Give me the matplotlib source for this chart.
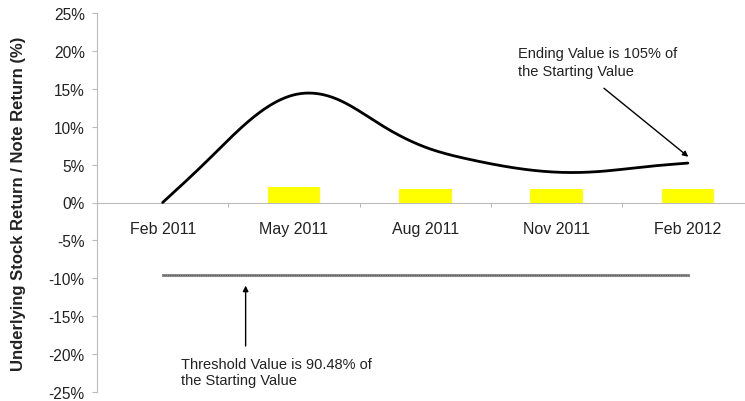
import numpy as np
import matplotlib
matplotlib.use('Agg')
import matplotlib.pyplot as plt

plt.rcParams['font.family'] = ['Liberation Sans', 'DejaVu Sans']

# data
categories = ['Feb 2011', 'May 2011', 'Aug 2011', 'Nov 2011', 'Feb 2012']
# monthly stock return (%), Feb 2011 .. Feb 2012
months = np.arange(13)
stock_return = [0.0, 5.4, 10.9, 14.2, 13.6, 10.2, 7.3, 5.7, 4.6, 4.0, 4.1, 4.7, 5.2]
# quarterly note coupon (%) on May 2011 .. Feb 2012
coupon_cats = [1, 2, 3, 4]
coupon = [2.05, 1.75, 1.75, 1.75]
threshold = 90.48 - 100
yticks = [25, 20, 15, 10, 5, 0, -5, -10, -15, -20, -25]


def natural_spline(x, y, n=400):
    # smooth drawing of the line through the points (natural cubic spline)
    x = np.asarray(x, float)
    y = np.asarray(y, float)
    k = len(x)
    h = np.diff(x)
    A = np.zeros((k, k))
    b = np.zeros(k)
    A[0, 0] = A[-1, -1] = 1
    for i in range(1, k - 1):
        A[i, i - 1] = h[i - 1]
        A[i, i] = 2 * (h[i - 1] + h[i])
        A[i, i + 1] = h[i]
        b[i] = 6 * ((y[i + 1] - y[i]) / h[i] - (y[i] - y[i - 1]) / h[i - 1])
    M = np.linalg.solve(A, b)
    xs = np.linspace(x[0], x[-1], n)
    j = np.clip(np.searchsorted(x, xs) - 1, 0, k - 2)
    t0 = xs - x[j]
    t1 = x[j + 1] - xs
    hj = h[j]
    ys = (M[j] * t1 ** 3 + M[j + 1] * t0 ** 3) / (6 * hj) \
        + (y[j] / hj - M[j] * hj / 6) * t1 + (y[j + 1] / hj - M[j + 1] * hj / 6) * t0
    return xs, ys


fig = plt.figure(figsize=(7.45, 4.02), dpi=100)
ax = fig.add_axes([97 / 745, 9 / 402, 656.5 / 745, 379 / 402])

ax.bar(coupon_cats, coupon, width=0.4, color='#ffff00', zorder=2)

xs, ys = natural_spline(months / 3, stock_return)
ax.plot(xs, ys, color='black', lw=2.0, solid_capstyle='round', zorder=3)

ax.plot([0, len(categories) - 1], [threshold, threshold], color='#8c8c8c', lw=2.2, zorder=2)
ax.plot([0, len(categories) - 1], [threshold, threshold], color='#5a5a5a', lw=0.8,
        ls=(0, (1, 1)), zorder=2)

ax.set_xlim(-0.5, len(categories) - 0.5)
ax.set_ylim(-25, 25)

ax.set_xticks(range(len(categories)))
ax.set_xticklabels(categories)
ax.set_xticks(np.arange(0.5, len(categories) - 0.5, 1), minor=True)
ax.tick_params(axis='x', which='major', length=0, pad=13.5, labelsize=11.5, labelcolor='#222222')
ax.tick_params(axis='x', which='minor', length=3, direction='out', color='#aaaaaa')

ax.set_yticks(yticks)
ax.set_yticklabels([f'{v}%' for v in yticks])
ax.tick_params(axis='y', length=3.6, pad=5.3, labelsize=11.2, color='#bbbbbb', labelcolor='#222222')

for s in ['top', 'right']:
    ax.spines[s].set_visible(False)
ax.spines['bottom'].set_position(('data', 0))
ax.spines['bottom'].set_color('#bbbbbb')
ax.spines['left'].set_color('#bbbbbb')

ax.set_ylabel('Underlying Stock Return / Note Return (%)', fontsize=12, fontweight='bold',
              color='#222222')
ax.yaxis.set_label_coords(-0.108, 0.5)

ax.text(2.706, 18.5, 'Ending Value is 105% of\nthe Starting Value', fontsize=10.5,
        ha='left', va='center', color='#222222', linespacing=1.4)
ax.annotate('', xy=(4.02, 5.8), xytext=(3.345, 15.3),
            arrowprops=dict(arrowstyle='-|>', color='black', lw=1, mutation_scale=8))

ax.text(0.139, -22.35, 'Threshold Value is 90.48% of\nthe Starting Value', fontsize=10.5,
        ha='left', va='center', color='#222222', linespacing=1.25)
ax.annotate('', xy=(0.632, -10.6), xytext=(0.632, -19.3),
            arrowprops=dict(arrowstyle='-|>', color='black', lw=1, mutation_scale=8))

fig.savefig('out.png', dpi=100)
